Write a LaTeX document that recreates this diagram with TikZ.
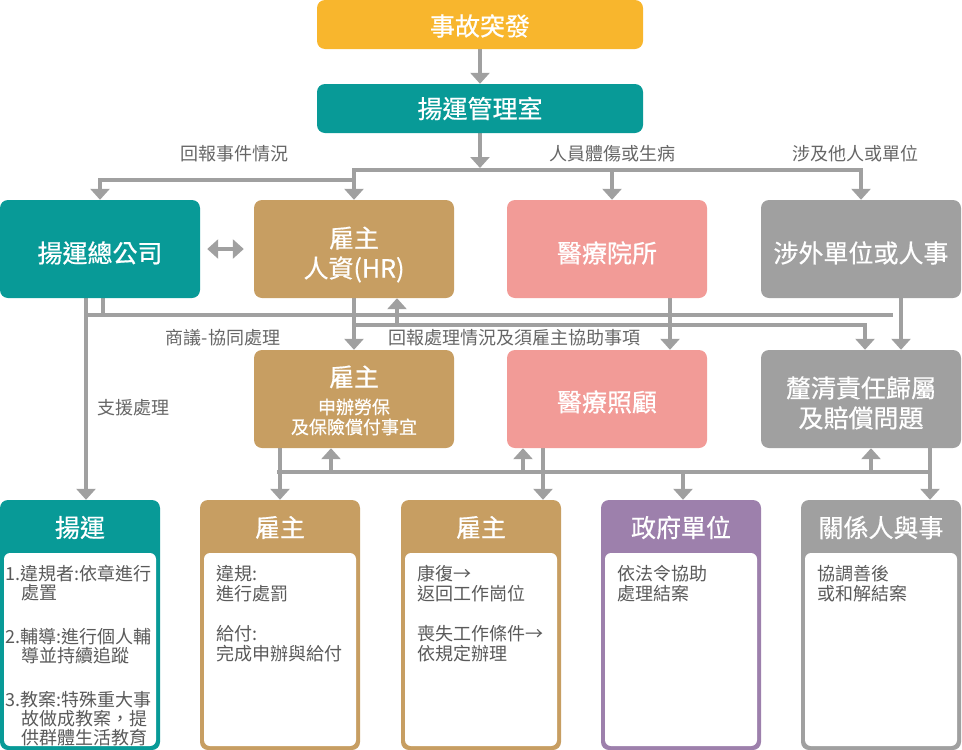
\documentclass[tikz,border=0pt]{standalone}
\usepackage{fontspec}
\setmainfont{Noto Sans CJK TC}
\newfontfamily\titlefont{Noto Sans CJK TC}[FakeBold=0.6]
\usetikzlibrary{arrows.meta,backgrounds}
\definecolor{cyel}{HTML}{F8B62D}
\definecolor{cteal}{HTML}{089A97}
\definecolor{ctan}{HTML}{C79E62}
\definecolor{cpink}{HTML}{F29B97}
\definecolor{cgray}{HTML}{A0A0A0}
\definecolor{cpurp}{HTML}{9D80AC}
\definecolor{cline}{HTML}{A0A0A0}
\definecolor{ctext}{HTML}{666666}
\definecolor{cbody}{HTML}{5A5A5A}
\newcommand\tstrut[1]{\rule{0pt}{#1}}
\begin{document}
\begin{tikzpicture}[x=1pt,y=-1pt,
  box/.style={rounded corners=8pt, inner sep=0pt, minimum width=200pt, minimum height=98pt,
    text=white, align=center, font=\titlefont\fontsize{25pt}{30pt}\selectfont},
  topbox/.style={box, minimum width=326pt, minimum height=49pt},
  card/.style={rounded corners=8pt, inner sep=0pt, minimum width=160pt, minimum height=250pt},
  inner/.style={rounded corners=6pt, inner sep=0pt, fill=white, minimum width=152pt, minimum height=193pt},
  head/.style={text=white, inner sep=0pt, font=\titlefont\fontsize{25pt}{30pt}\selectfont},
  body/.style={text=cbody, inner sep=0pt, anchor=north west, align=left, font=\fontsize{18pt}{20pt}\selectfont},
  lbl/.style={text=ctext, inner sep=0pt, font=\fontsize{18pt}{22pt}\selectfont},
  conn/.style={draw=cline, line width=3.5pt, line cap=rect},
  arr/.style={conn, -{Triangle[width=19pt,length=11pt]}},
  dbl/.style={draw=cline, line width=3.5pt, {Triangle[width=19pt,length=11pt]}-{Triangle[width=19pt,length=11pt]}}
]
\useasboundingbox (0,0) rectangle (962,750);

% top
\node[topbox, fill=cyel] (acc) at (480,24.5) {\tstrut{24pt}事故突發};
\node[topbox, fill=cteal] (mgmt) at (480,108.5) {揚運管理室};

% row 2
\node[box, fill=cteal] (hq) at (100,249) {\tstrut{29pt}揚運總公司};
\node[box, fill=ctan] (hr) at (354,249) {\tstrut{32pt}雇主\\人資(HR)};
\node[box, fill=cpink] (hosp) at (607,249) {\tstrut{29pt}醫療院所};
\node[box, fill=cgray] (ext) at (861,249) {\tstrut{29pt}涉外單位或人事};

% row 3
\node[box, fill=ctan] (ins) at (354,399) {};
\node[head] (insT) at (354,377) {雇主};
\node[text=white, inner sep=0pt, align=center, font=\titlefont\fontsize{18pt}{20pt}\selectfont] (insS) at (354,417) {申辦勞保\\及保險償付事宜};
\node[box, fill=cpink] (care) at (607,399) {\tstrut{27pt}醫療照顧};
\node[box, fill=cgray] (resp) at (861,399) {\tstrut{29pt}釐清責任歸屬\\及賠償問題};

% row 4
\node[card, fill=cteal] (yy) at (80,625) {};
\node[card, fill=ctan] (e2) at (280,625) {};
\node[card, fill=ctan] (e3) at (481,625) {};
\node[card, fill=cpurp] (gov) at (681,625) {};
\node[card, fill=cgray] (rel) at (881,625) {};
\node[inner] (yyI) at (80,649.5) {};
\node[inner] (e2I) at (280,649.5) {};
\node[inner] (e3I) at (481,649.5) {};
\node[inner] (govI) at (681,649.5) {};
\node[inner] (relI) at (881,649.5) {};
\node[head] (yyH) at (80,527.5) {揚運};
\node[head] (e2H) at (280,527.5) {雇主};
\node[head] (e3H) at (481,527.5) {雇主};
\node[head] (govH) at (681,527.5) {政府單位};
\node[head] (relH) at (881,527.5) {關係人與事};

\node[body, font=\fontsize{18pt}{19pt}\selectfont] (yyB) at (5,565) {1.違規者:依章進行\\\hspace*{16pt}處置\\[25pt]2.輔導:進行個人輔\\\hspace*{16pt}導並持續追蹤\\[25pt]3.教案:特殊重大事\\\hspace*{16pt}故做成教案，提\\\hspace*{16pt}供群體生活教育};
\node[body] (e2B) at (216,565) {違規:\\進行處罰\\[20pt]給付:\\完成申辦與給付};
\node[body] (e3B) at (417,565) {康復→\\返回工作崗位\\[20pt]喪失工作條件→\\依規定辦理};
\node[body] (govB) at (617,565) {依法令協助\\處理結案};
\node[body] (relB) at (817,565) {協調善後\\或和解結案};

% labels
\node[lbl] (l1) at (234,154) {回報事件情況};
\node[lbl] (l2) at (612,154) {人員體傷或生病};
\node[lbl] (l3) at (855,154) {涉及他人或單位};
\node[lbl] (l4) at (133,408) {支援處理};
\node[lbl] (l5) at (223,338) {商議-協同處理};
\node[lbl] (l6) at (514,338) {回報處理情況及須雇主協助事項};

% connectors
\begin{scope}[on background layer]
\coordinate (busA) at (354,170);
\coordinate (busB) at (354,180);
\coordinate (busC) at (90,315);
\coordinate (busD) at (891,315);
\coordinate (busE) at (354,325);
\coordinate (busF) at (279,472);
\coordinate (busG) at (930,472);

\draw[arr] (acc.south) -- (mgmt.north);
\draw[arr] (mgmt.south) -- (480,168);
\draw[conn] (busA) -- (861,170);
\draw[arr] (busA) -- (hr.north);
\draw[arr] (busB) -| (hq.north);
\draw[arr] (612,170) -- ([xshift=5pt]hosp.north);
\draw[arr] (861,170) -- (ext.north);

\draw[dbl] ([xshift=7pt]hq.east) -- ([xshift=-10pt]hr.west);

\draw[arr] ([xshift=-14pt]hq.south) -- ([xshift=6pt]yy.north);
\draw[conn] ([xshift=3pt]hq.south) -- (103,315);
\draw[conn] (busC) -- (busD);
\draw[arr] (busE) -| ([xshift=4pt]resp.north);
\draw[arr] (397,325) -- ([xshift=43pt]hr.south);
\draw[arr] (hr.south) -- (ins.north);
\draw[arr] ([xshift=63pt]hosp.south) -- ([xshift=63pt]care.north);
\draw[arr] ([xshift=40pt]ext.south) -- ([xshift=40pt]resp.north);

\draw[conn] (busF) -- (busG);
\draw[arr] (ins.south -| e2.north) -- (e2.north);
\draw[arr] (331,472) -- ([xshift=-23pt]ins.south);
\draw[arr] (523,472) -- ([xshift=-84pt]care.south);
\draw[arr] ([xshift=-64pt]care.south) -- ([xshift=62pt]e3.north);
\draw[arr] (683,472) -- ([xshift=2pt]gov.north);
\draw[arr] (871,472) -- ([xshift=10pt]resp.south);
\draw[arr] ([xshift=69pt]resp.south) -- ([xshift=49pt]rel.north);
\end{scope}
\end{tikzpicture}
\end{document}
